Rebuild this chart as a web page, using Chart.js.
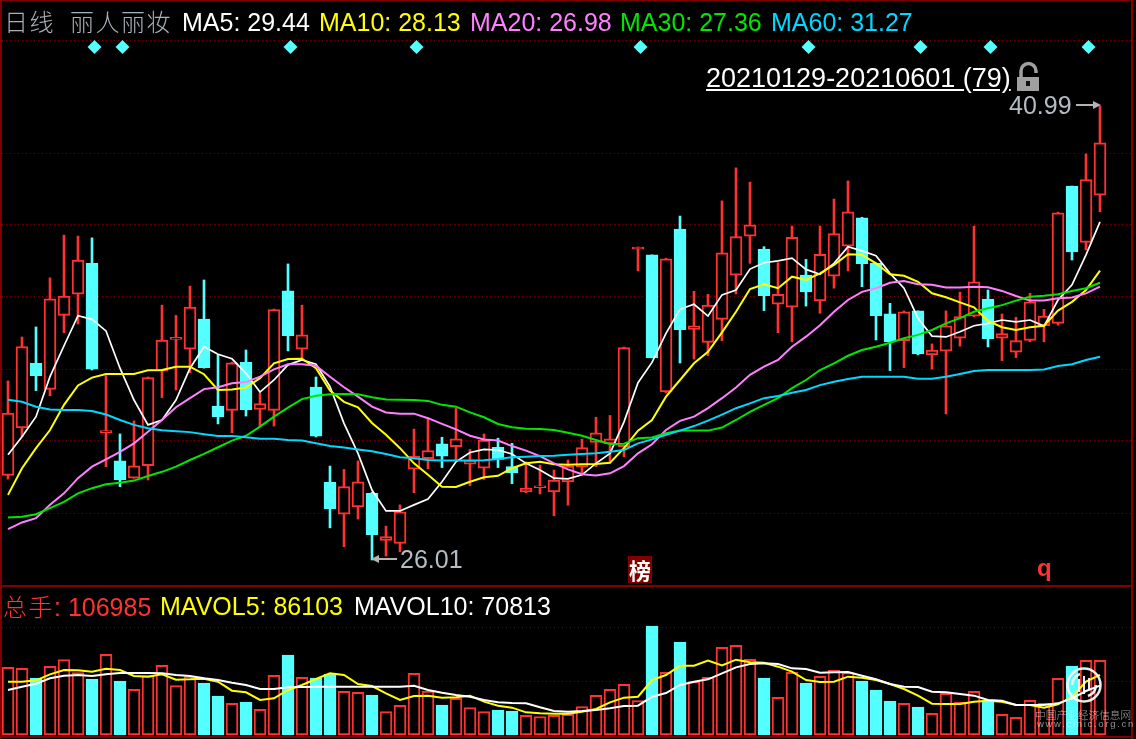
<!DOCTYPE html>
<html><head><meta charset="utf-8">
<script src="https://cdn.jsdelivr.net/npm/chart.js@4"></script>
<style>
html,body{margin:0;padding:0;background:#000;overflow:hidden}
#wrap{position:relative;width:1136px;height:739px;background:#000;overflow:hidden}
canvas{position:absolute;left:0;top:0}
.t{position:absolute;white-space:pre;font-family:"Liberation Sans",Arial,sans-serif;font-size:25px;line-height:30px}
.c{font-family:"Noto Sans CJK SC",sans-serif;font-size:24px;letter-spacing:1.5px;font-weight:300}
.f{position:absolute;background:#800000}
svg{position:absolute;left:0;top:0}
</style></head><body>
<div id="wrap">
<canvas id="c" width="1136" height="739"></canvas>
<svg width="1136" height="739" viewBox="0 0 1136 739">
  <g stroke="#b4b4b4" fill="#b4b4b4" stroke-width="2">
    <line x1="1076" y1="105" x2="1094" y2="105"/><path d="M1093 101 L1101 105 L1093 109 Z" stroke="none"/>
    <line x1="378" y1="559" x2="397" y2="559"/><path d="M379 555 L371 559 L379 563 Z" stroke="none"/>
  </g>
  <path d="M1021 77 V71 A7.5 7.5 0 0 1 1036 71 V73" fill="none" stroke="#a0a0a0" stroke-width="3.5"/>
  <rect x="1017" y="77" width="22" height="14" fill="#a0a0a0"/>
  <rect x="1026" y="81" width="4" height="5" fill="#111"/>
  <rect x="628" y="556" width="24" height="27" fill="#800000"/>
  <g opacity="0.92" fill="none" stroke="#fff">
    <circle cx="1084" cy="685" r="16.5" stroke-width="2.5"/>
    <path d="M1072 685 A12 12 0 0 1 1080 674" stroke-width="2.5"/>
    <path d="M1096 685 A12 12 0 0 1 1088 696" stroke-width="2.5"/>
    <path d="M1079 679 V692 M1084 676 V694 M1089 678 V690" stroke-width="2"/>
  </g>
</svg>
<div class="f" style="left:0;top:0;width:2px;height:739px"></div>
<div class="f" style="left:1131px;top:0;width:2px;height:739px"></div>
<div class="f" style="left:0;top:585px;width:1133px;height:2px"></div>
<div class="f" style="left:0;top:736px;width:1133px;height:2px"></div>
<div class="f" style="left:0;top:0;width:1133px;height:1px"></div>

<span class="t c" style="left:4px;top:6px;color:#a9b0b8">日线</span>
<span class="t c" style="left:70px;top:6px;color:#a9b0b8">丽人丽妆</span>
<span class="t" style="left:182px;top:7px;color:#fff">MA5: 29.44</span>
<span class="t" style="left:319px;top:7px;color:#ffff00">MA10: 28.13</span>
<span class="t" style="left:470px;top:7px;color:#ff80ff">MA20: 26.98</span>
<span class="t" style="left:620px;top:7px;color:#00e600">MA30: 27.36</span>
<span class="t" style="left:771px;top:7px;color:#00d8ff">MA60: 31.27</span>
<span class="t" style="left:706px;top:63px;color:#fff;font-size:27px;text-decoration:underline">20210129-20210601 (79)</span>
<span class="t" style="left:1009px;top:90px;color:#b4bcc4">40.99</span>
<span class="t" style="left:400px;top:544px;color:#b4bcc4">26.01</span>
<span class="t c" style="left:629px;top:554px;color:#fff;font-weight:700;font-size:22px;letter-spacing:0">榜</span>
<span class="t" style="left:1037px;top:553px;color:#ff3232;font-weight:700;font-size:24px">q</span>
<span class="t c" style="left:3px;top:591px;color:#ff3232">总手<span style="font-family:'Liberation Sans';letter-spacing:0;font-size:25px;font-weight:400">: 106985</span></span>
<span class="t" style="left:160px;top:591px;color:#ffff00">MAVOL5: 86103</span>
<span class="t" style="left:354px;top:591px;color:#fff">MAVOL10: 70813</span>
<span class="t c" style="left:1035px;top:705px;color:#fff;opacity:.6;font-size:10.7px;letter-spacing:0;line-height:20px">中国产业经济信息网</span>
<span class="t" style="left:1037px;top:716px;color:#fff;opacity:.55;font-size:9.5px;letter-spacing:1.7px;line-height:16px">www.cinic.org.cn</span>
</div>
<script>
const open_ = [28.80,30.37,32.50,31.64,34.08,34.78,35.80,30.21,29.28,28.71,29.12,32.24,33.29,32.97,33.96,31.09,30.95,32.53,30.98,30.95,34.89,32.97,31.72,28.57,27.52,27.76,28.21,26.66,26.56,29.01,29.35,29.84,29.75,29.17,29.04,29.73,29.09,28.26,28.40,28.26,28.59,29.07,29.89,29.84,29.75,36.27,36.08,31.56,36.93,33.62,33.19,33.95,35.41,36.70,36.27,34.45,34.35,35.41,34.56,35.38,36.37,37.30,35.80,34.13,33.25,34.23,32.78,32.90,33.33,34.06,34.62,33.33,32.87,33.26,33.74,33.82,38.35,36.49,38.05];
const close_ = [30.86,33.05,32.09,34.63,34.72,35.91,32.31,30.28,28.65,29.12,32.03,33.27,33.36,34.36,32.36,30.74,32.52,30.97,31.17,34.27,33.41,33.44,30.10,27.70,28.43,28.59,26.85,26.78,27.60,29.44,29.62,29.44,30.01,29.31,29.97,29.33,28.88,28.38,28.46,28.65,29.11,29.72,30.21,30.01,33.02,36.34,32.68,35.95,33.61,33.74,34.42,36.15,36.68,37.07,34.73,34.78,36.66,34.86,36.10,36.78,37.50,35.79,34.07,33.21,34.20,32.81,32.94,33.74,34.04,35.19,33.31,33.48,33.25,34.53,34.06,37.47,36.18,38.56,39.78];
const high_ = [31.92,33.37,33.70,35.32,36.73,36.70,36.64,32.09,30.17,30.60,32.05,34.42,34.08,35.05,35.25,32.78,32.54,32.94,31.52,34.29,35.78,34.42,32.05,29.11,29.00,29.28,28.25,27.13,27.83,30.33,30.69,30.06,31.02,29.66,30.17,30.03,29.86,29.25,29.14,28.98,29.31,30.00,30.72,30.78,33.04,36.34,36.08,35.97,37.36,34.88,34.78,37.86,38.95,38.48,36.35,35.82,37.03,35.93,37.03,37.92,38.52,37.32,35.81,34.48,34.23,34.23,33.14,34.23,34.85,37.03,34.92,34.13,34.02,34.81,34.28,37.49,38.35,39.41,40.99];
const low_ = [28.68,30.08,31.60,31.43,33.51,33.80,32.28,29.09,28.43,28.71,28.65,31.37,31.62,32.19,32.34,30.50,30.21,30.76,30.41,30.43,32.91,32.68,30.07,27.07,26.45,27.36,26.01,26.14,26.28,28.23,29.02,29.06,29.31,28.46,28.67,29.06,28.53,28.23,28.19,27.47,27.82,28.88,29.09,29.21,29.42,35.55,32.68,31.52,32.51,32.64,32.75,33.25,34.79,35.80,34.24,33.51,33.21,34.39,34.15,34.98,35.55,35.03,33.27,32.26,32.36,32.78,32.31,30.83,33.07,34.04,33.04,32.59,32.69,33.21,33.21,33.76,35.91,36.24,37.50];
const ma5 = [29.48,30.08,30.74,32.06,33.08,34.07,33.95,33.57,32.34,31.29,30.47,30.63,31.29,32.34,33.05,32.80,32.65,32.17,31.55,31.95,32.45,32.61,32.47,31.73,30.52,29.53,28.32,27.63,27.63,27.83,28.02,28.59,29.25,29.56,29.66,29.64,29.51,29.20,28.98,28.71,28.69,28.82,29.20,29.53,30.57,31.86,32.53,33.49,34.29,34.45,34.06,34.76,34.92,35.61,35.82,35.88,35.97,35.60,35.44,35.80,36.35,36.21,36.05,35.47,34.98,33.99,33.40,33.37,33.54,33.74,33.82,33.93,33.87,33.93,33.73,34.59,35.09,36.08,37.17];
const ma10 = [28.16,29.04,29.70,30.30,31.13,31.77,32.03,32.15,32.15,32.15,32.27,32.28,32.39,32.39,32.14,31.62,31.64,31.70,32.01,32.50,32.64,32.65,32.34,31.60,31.23,31.05,30.53,30.14,29.70,29.20,28.82,28.43,28.42,28.59,28.74,28.79,29.04,29.20,29.25,29.17,29.15,29.17,29.18,29.22,29.70,30.28,30.63,31.40,31.95,32.50,32.88,33.52,34.20,34.95,35.11,34.98,35.36,35.25,35.47,35.75,36.10,36.08,35.80,35.44,35.39,35.19,34.81,34.68,34.51,34.35,33.90,33.69,33.60,33.69,33.74,34.24,34.53,34.92,35.56];
const ma20 = [27.03,27.25,27.39,27.83,28.21,28.71,29.09,29.33,29.58,29.86,30.24,30.63,31.05,31.35,31.65,31.71,31.84,31.88,32.06,32.30,32.47,32.47,32.42,32.06,31.71,31.40,31.07,30.88,30.84,30.84,30.69,30.50,30.32,30.11,29.99,29.95,29.77,29.62,29.44,29.20,29.00,28.84,28.80,28.87,29.11,29.53,29.83,30.30,30.60,30.74,31.02,31.35,31.70,32.12,32.39,32.61,33.05,33.38,33.76,34.20,34.59,34.86,34.98,35.16,35.22,35.11,35.09,35.00,35.00,35.03,35.01,34.89,34.72,34.57,34.57,34.65,34.67,34.81,35.03];
const ma30 = [27.41,27.44,27.52,27.72,27.93,28.21,28.38,28.51,28.56,28.63,28.78,28.92,29.09,29.31,29.51,29.73,29.95,30.11,30.41,30.74,31.04,31.32,31.43,31.48,31.49,31.48,31.38,31.31,31.30,31.29,31.26,31.13,31.07,30.88,30.72,30.50,30.39,30.34,30.33,30.30,30.21,30.11,29.97,29.84,29.85,30.03,30.05,30.19,30.28,30.28,30.28,30.38,30.63,30.90,31.13,31.35,31.68,31.95,32.28,32.50,32.75,32.94,33.05,33.18,33.33,33.44,33.60,33.82,33.99,34.20,34.32,34.42,34.57,34.70,34.73,34.78,34.89,34.98,35.16];
const ma60 = [31.30,31.23,31.07,30.98,30.96,30.96,30.93,30.81,30.63,30.47,30.36,30.29,30.26,30.23,30.16,30.10,30.10,30.06,30.01,30.01,29.97,29.95,29.86,29.77,29.72,29.66,29.60,29.51,29.40,29.37,29.31,29.29,29.29,29.29,29.30,29.34,29.40,29.42,29.44,29.45,29.48,29.51,29.53,29.58,29.64,29.86,29.99,30.14,30.28,30.43,30.61,30.81,31.02,31.18,31.35,31.42,31.53,31.62,31.78,31.89,31.98,32.06,32.06,32.06,32.06,31.99,31.99,32.06,32.15,32.25,32.28,32.28,32.28,32.28,32.30,32.41,32.47,32.61,32.72];
const volume = [96950,95520,81670,98390,107940,89310,80240,115580,77370,65430,85010,99820,70680,83580,74510,55880,45370,47280,36780,85490,114620,82620,81670,86920,62570,61130,57310,33430,42510,88360,63040,42980,52540,39160,33430,35820,34390,28180,26270,28180,29610,40600,56830,65430,72600,49190,156180,89790,133250,76420,82620,125610,128470,108420,81670,53970,89790,74510,84060,92650,89310,77370,64480,48720,45370,40120,31040,59700,46800,62570,50150,29610,25310,49670,45370,81190,98860,106980,106985];
const mavol5 = [76420,76420,78330,86920,93130,92650,90740,95040,93130,84540,83580,86920,79280,79760,80710,76420,63520,61130,50150,52540,64480,71640,80240,88360,85970,73070,70210,59700,50150,55880,56360,53490,53970,56360,47760,42030,39160,32480,31040,30570,30570,33430,37250,46800,53490,54920,78800,85970,99340,99340,106500,99820,107940,104120,103640,97910,90740,78800,75940,76420,83580,82150,78800,73070,65910,56360,44890,44420,44420,47760,49190,47760,42980,42980,39160,43940,54450,76420,86103];
const mavol10 = [64480,69250,73550,81190,85010,85970,84540,86920,88830,88830,88830,88360,85970,84540,81190,78800,74980,71640,65910,65910,68300,68770,69250,69250,69250,69250,69250,69250,69250,70680,64480,60660,57310,54920,50150,46800,45850,45370,39640,34390,33430,34390,35820,38210,41550,42030,54920,60180,71640,76420,79760,88360,96950,101730,102680,101730,95520,94560,89310,89790,90270,85010,79760,73070,69250,68770,62090,61130,58740,56360,50150,49190,42980,42980,42980,45370,52540,63040,70813];
const signalDays = [6,8,20,29,45,57,65,70,77];
const signalLevel = 42.94;
const priceGrid = [43.14,39.44,37.07,34.69,32.31,29.94,27.56];
const volumeGrid = [77370,154740];

const RED = '#ff3232', CYAN = '#54ffff';
const isUp = open_.map((o, i) => close_[i] >= o);
const tone = isUp.map(u => u ? RED : CYAN);
const volTone = volume.map((v, i) => tone[i]);
const line = (data, color, order, axis, w) => ({
  type: 'line', data: data.map((y, x) => ({x, y})), borderColor: color, borderWidth: w,
  pointRadius: 0, tension: 0, yAxisID: axis, order, fill: false, spanGaps: true
});
const gridAxis = (min, max, values) => ({
  position: 'left', min, max, display: true,
  ticks: {display: false}, border: {display: false, dash: [1, 3]},
  grid: {color: '#7a0000', lineWidth: 1, drawTicks: false},
  afterBuildTicks: s => { s.ticks = values.map(value => ({value})); },
  afterFit: s => { s.width = 0; }
});
new Chart(document.getElementById('c'), {
  type: 'bar',
  data: { datasets: [
    {data: signalDays.map(d => ({x: d + 0.18, y: signalLevel})), type: 'scatter', showLine: false,
     pointStyle: 'rectRot', pointRadius: 7, pointBackgroundColor: CYAN, pointBorderWidth: 0, yAxisID: 'y', order: 0},
    line(mavol10, '#ffffff', 1, 'v', 2),
    line(mavol5, '#ffff00', 2, 'v', 2),
    line(ma60, '#00d8ff', 3, 'y', 2),
    line(ma30, '#00e600', 4, 'y', 2),
    line(ma20, '#ff80ff', 5, 'y', 2),
    line(ma10, '#ffff00', 6, 'y', 2),
    line(ma5, '#ffffff', 7, 'y', 1.7),
    {data: volume.map((y, x) => ({x, y})), yAxisID: 'v', order: 10, grouped: false, barThickness: 12,
     backgroundColor: isUp.map(u => u ? '#000' : CYAN), borderColor: volTone, borderWidth: 2, borderSkipped: false},
    {data: open_.map((o, x) => ({x, y: [o, close_[x]]})), yAxisID: 'y', order: 11, grouped: false, barThickness: 12,
     backgroundColor: isUp.map(u => u ? '#000' : CYAN), borderColor: tone, borderWidth: 2, borderSkipped: false},
    {data: high_.map((h, x) => ({x, y: [low_[x], h]})), yAxisID: 'y', order: 12, grouped: false, barThickness: 2,
     backgroundColor: tone, borderWidth: 0}
  ]},
  options: {
    responsive: false, animation: false, events: [],
    layout: {autoPadding: false, padding: {left: 2, right: 4, top: 0, bottom: 0}},
    plugins: {legend: {display: false}, tooltip: {enabled: false}},
    scales: {
      x: {type: 'linear', display: false, offset: false, min: -0.42857, max: 80.28571},
      y: gridAxis(20.103, 44.49, priceGrid),
      v: gridAxis(-5731, 1053108, volumeGrid)
    }
  }
});
</script>
</body></html>
